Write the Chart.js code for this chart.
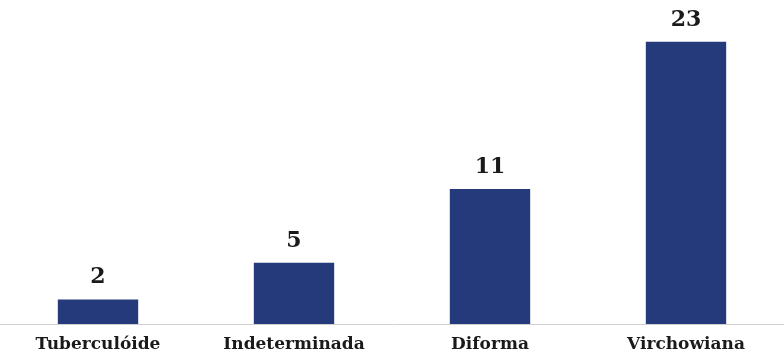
<!DOCTYPE html>
<html lang="pt-BR">
<head>
    <meta charset="UTF-8">
    <title>Formas clínicas</title>
    <style>
        html, body { margin: 0; padding: 0; background: #ffffff; }
        .grafico-container { position: relative; width: 784px; height: 358px; }
    </style>
</head>
<body>
    <div class="grafico-container">
        <canvas id="grafico"></canvas>
    </div>

    <script src="https://cdn.jsdelivr.net/npm/chart.js"></script>
    <script>
        // Dados do gráfico
        const categorias = ['Tuberculóide', 'Indeterminada', 'Diforma', 'Virchowiana'];
        const valores = [2, 5, 11, 23];

        const fonteSerif = "'Book Antiqua', Palatino, 'DejaVu Serif', 'Liberation Serif', serif";

        // Rótulos de valor acima das barras
        const rotulosValor = {
            id: 'rotulosValor',
            afterDatasetsDraw(chart) {
                const ctx = chart.ctx;
                const meta = chart.getDatasetMeta(0);
                ctx.save();
                ctx.fillStyle = '#1a1a1a';
                ctx.font = 'bold 22px ' + fonteSerif;
                ctx.textAlign = 'center';
                ctx.textBaseline = 'alphabetic';
                meta.data.forEach((barra, i) => {
                    ctx.fillText(valores[i], barra.x, barra.y - 16);
                });
                ctx.restore();
            }
        };

        const ctx = document.getElementById('grafico').getContext('2d');
        new Chart(ctx, {
            type: 'bar',
            data: {
                labels: categorias,
                datasets: [{
                    data: valores,
                    backgroundColor: '#253a7a',
                    categoryPercentage: 0.41,
                    barPercentage: 1.0
                }]
            },
            options: {
                responsive: true,
                maintainAspectRatio: false,
                animation: false,
                layout: { padding: { left: 0, right: 0, top: 0, bottom: -7 } },
                scales: {
                    y: {
                        display: false,
                        beginAtZero: true,
                        max: 26.4
                    },
                    x: {
                        grid: { display: false, drawTicks: false },
                        border: { color: '#d0d0d0', width: 1 },
                        ticks: {
                            color: '#1a1a1a',
                            padding: 12,
                            font: { family: fonteSerif, size: 17, weight: 'bold', lineHeight: 1 }
                        }
                    }
                },
                plugins: {
                    legend: { display: false },
                    tooltip: { enabled: false }
                }
            },
            plugins: [rotulosValor]
        });
    </script>
</body>
</html>
